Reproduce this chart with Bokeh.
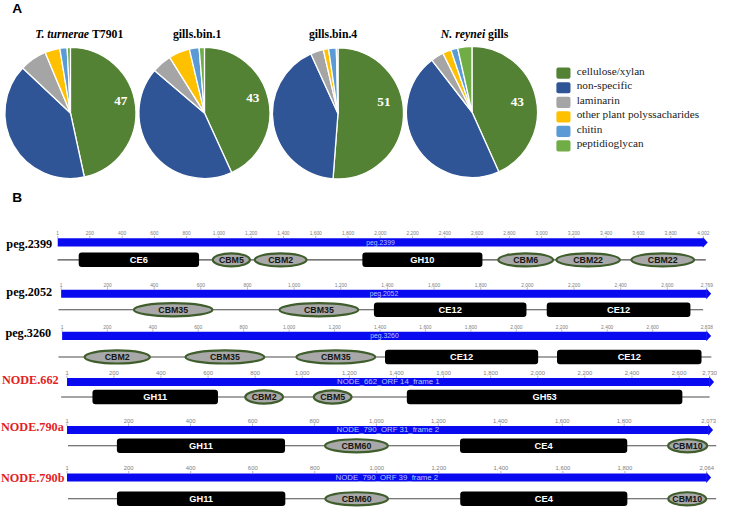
import math
from bokeh.plotting import figure
from bokeh.models import Range1d, ColumnDataSource
from bokeh.core.properties import value
from bokeh.embed import file_html
from bokeh.resources import INLINE

# ---------------- data ----------------
categories = ["cellulose/xylan", "non-specific", "laminarin",
              "other plant polyssacharides", "chitin", "peptidioglycan"]
cat_colors = ["#548235", "#2F5597", "#A5A5A5", "#FFC000", "#5B9BD5", "#70AD47"]

pie_title_italic = ["T. turnerae", "", "", "N. reynei"]
pie_title_plain = ["T7901", "gills.bin.1", "gills.bin.4", "gills"]
pct_turnerae = [46.6, 40.4, 6.7, 3.7, 1.8, 0.8]
pct_bin1 = [43.2, 43.0, 4.9, 5.2, 2.4, 1.3]
pct_bin4 = [51.2, 42.0, 3.2, 1.3, 1.9, 0.4]
pct_reynei = [43.3, 46.2, 3.2, 2.1, 1.7, 3.5]
pie_labels = ["47", "43", "51", "43"]

track_names = ["peg.2399", "peg.2052", "peg.3260", "NODE.662", "NODE.790a", "NODE.790b"]
track_bar_labels = ["peg.2399", "peg.2052", "peg.3260", "NODE_662_ORF 14_frame 1",
                    "NODE_790_ORF 31_frame 2", "NODE_790_ORF 39_frame 2"]
track_lengths = [4002, 2769, 2838, 2730, 2073, 2064]
tick_step = 200

dom_2399_names = ["CE6", "CBM5", "CBM2", "GH10", "CBM6", "CBM22", "CBM22"]
dom_2399_start = [131, 962, 1222, 1889, 2731, 3091, 3556]
dom_2399_end = [877, 1192, 1543, 2633, 3071, 3485, 3945]
dom_2052_names = ["CBM35", "CBM35", "CE12", "CE12"]
dom_2052_start = [313, 937, 1342, 2083]
dom_2052_end = [650, 1275, 1996, 2699]
dom_3260_names = ["CBM2", "CBM35", "CBM35", "CE12", "CE12"]
dom_3260_start = [100, 544, 1032, 1422, 2179]
dom_3260_end = [387, 891, 1379, 2096, 2815]
dom_662_names = ["GH11", "CBM2", "CBM5", "GH53"]
dom_662_start = [109, 758, 1049, 1444]
dom_662_end = [642, 918, 1209, 2614]
dom_790a_names = ["GH11", "CBM60", "CE4", "CBM10"]
dom_790a_start = [162, 834, 1270, 1942]
dom_790a_end = [705, 1037, 1810, 2068]
dom_790b_names = ["GH11", "CBM60", "CE4", "CBM10"]
dom_790b_start = [162, 834, 1269, 1940]
dom_790b_end = [705, 1036, 1808, 2062]

# ---------------- layout (reference pixel space) ----------------
REF_W, REF_H = 733, 524
W, H = 717, 508
K = W / REF_W


def Y(v):
    return REF_H - v


def fs(px):
    return f"{px * K:.2f}px"


SERIF = value("Liberation Serif")
SANS = value("Liberation Sans")

pie_cx = [71.5, 208.5, 345, 482]
pie_cy = [116, 116, 116.5, 115]
PIE_R = 67
pie_lab_dx = [51.5, 49.5, 47, 46.3]
pie_lab_dy = [12, 15, 11.5, 10]
title_y = 35
title_split = [90.5, None, None, 495.5]
title_center = [None, 201, 340, None]

leg_sq_x = 575.5
leg_sq_y = [75, 90, 105, 120, 135, 150]
leg_txt_x = 589

trk_p0 = [58.5, 62, 63, 68, 68, 68]
trk_p1 = [718.5, 722, 722, 725, 724, 722]
trk_bar_y = [249.5, 302.5, 346, 393.5, 443, 492]
trk_line_y = [267.5, 319, 367.7, 409, 459.3, 514]
trk_line_x0 = [58.3, 59.3, 59.3, 62, 69, 69]
trk_line_x1 = [721, 718.3, 726.7, 725, 731.7, 731.7]
trk_name_x = [6, 6, 5, 1.5, 0.5, 0.5]
trk_name_y = [251, 301, 343.3, 391.7, 440, 492.3]
trk_color = ["black", "black", "black", "#E31E24", "#E31E24", "#E31E24"]
trk_tick_fs = [5, 5, 5, 6, 6, 6]
trk_bar_fs = [7, 7, 7, 8, 8, 8]
BAR_H = 8.4

track_domains = [
    (dom_2399_names, dom_2399_start, dom_2399_end),
    (dom_2052_names, dom_2052_start, dom_2052_end),
    (dom_3260_names, dom_3260_start, dom_3260_end),
    (dom_662_names, dom_662_start, dom_662_end),
    (dom_790a_names, dom_790a_start, dom_790a_end),
    (dom_790b_names, dom_790b_start, dom_790b_end),
]

p = figure(width=W, height=H, x_range=Range1d(0, REF_W), y_range=Range1d(0, REF_H),
           output_backend="svg", toolbar_location=None, min_border=0,
           x_axis_location=None, y_axis_location=None)
p.grid.visible = False
p.outline_line_color = None
p.background_fill_color = "white"

# panel letters
p.text(x=[12, 12], y=[Y(8.5), Y(203.5)], text=["A", "B"], text_font=SANS,
       text_font_style="bold", text_font_size=fs(14), text_baseline="middle",
       text_align="left", text_color="black")

# ---------------- Panel A: pies ----------------
pie_values = [pct_turnerae, pct_bin1, pct_bin4, pct_reynei]
for i, vals in enumerate(pie_values):
    tot = sum(vals)
    cum = 0.0
    starts, ends = [], []
    for v in vals:
        starts.append(math.pi / 2 - 2 * math.pi * cum / tot)
        cum += v
        ends.append(math.pi / 2 - 2 * math.pi * cum / tot)
    src = ColumnDataSource(dict(x=[pie_cx[i]] * len(vals), y=[Y(pie_cy[i])] * len(vals),
                                start=starts, end=ends, color=cat_colors))
    p.wedge(x="x", y="y", radius=PIE_R, start_angle="start", end_angle="end",
            direction="clock", fill_color="color", line_color="white",
            line_width=1.3, source=src)
    p.text(x=[pie_cx[i] + pie_lab_dx[i]], y=[Y(pie_cy[i]) + pie_lab_dy[i]],
           text=[pie_labels[i]], text_font=SERIF, text_font_style="bold",
           text_font_size=fs(13.5), text_color="white", text_align="center",
           text_baseline="middle")
    if pie_title_italic[i]:
        sx = title_split[i]
        p.text(x=[sx], y=[Y(title_y)], text=[pie_title_italic[i]], text_font=SERIF,
               text_font_style="bold italic", text_font_size=fs(12),
               text_align="right", text_baseline="middle", text_color="black")
        p.text(x=[sx + 3], y=[Y(title_y)], text=[pie_title_plain[i]], text_font=SERIF,
               text_font_style="bold", text_font_size=fs(12),
               text_align="left", text_baseline="middle", text_color="black")
    else:
        p.text(x=[title_center[i]], y=[Y(title_y)], text=[pie_title_plain[i]],
               text_font=SERIF, text_font_style="bold", text_font_size=fs(12),
               text_align="center", text_baseline="middle", text_color="black")

# legend
leg_y = [Y(v) for v in leg_sq_y]
p.quad(left=[leg_sq_x - 7.2] * 6, right=[leg_sq_x + 7.2] * 6,
       bottom=[v - 5.8 for v in leg_y], top=[v + 5.8 for v in leg_y],
       fill_color=cat_colors, line_color=None, border_radius=2)
p.text(x=[leg_txt_x] * 6, y=[v + 2.5 for v in leg_y], text=categories,
       text_font=SERIF, text_font_size=fs(11.5), text_baseline="middle",
       text_align="left", text_color="#222222")

# ---------------- Panel B: domain tracks ----------------
for i in range(len(track_names)):
    L = track_lengths[i]
    s = (trk_p1[i] - trk_p0[i]) / (L - 1)
    a = 1 - trk_p0[i] / s
    rn = f"t{i}"
    p.extra_x_ranges[rn] = Range1d(a, a + REF_W / s)
    yb = Y(trk_bar_y[i])
    yl = Y(trk_line_y[i])

    def res(px):
        return 1 + (px - trk_p0[i]) / s

    # backbone line
    p.segment(x0=[res(trk_line_x0[i])], y0=[yl], x1=[res(trk_line_x1[i])], y1=[yl],
              x_range_name=rn, line_color="#4d4d4d", line_width=1.1)
    # blue arrow bar
    p.quad(left=[1], right=[L], bottom=[yb - BAR_H / 2], top=[yb + BAR_H / 2],
           x_range_name=rn, fill_color="#0a0af0", line_color=None)
    p.patches(xs=[[L - 0.5 / s, L - 0.5 / s, L + 4.5 / s]],
              ys=[[yb - 5.6, yb + 5.6, yb]], x_range_name=rn,
              fill_color="#0a0af0", line_color=None)
    p.text(x=[(1 + L) / 2], y=[yb], text=[track_bar_labels[i]], x_range_name=rn,
           text_font=SANS, text_font_size=fs(trk_bar_fs[i]), text_color="#b3c6ff",
           text_align="center", text_baseline="middle")
    # ticks
    ticks = [1] + [m for m in range(tick_step, L, tick_step) if L - m > 100] + [L]
    p.segment(x0=ticks, y0=[yb + BAR_H / 2] * len(ticks), x1=ticks,
              y1=[yb + BAR_H / 2 + 2.5] * len(ticks), x_range_name=rn,
              line_color="#9a9a9a", line_width=0.7)
    p.text(x=ticks, y=[yb + 9.5] * len(ticks), text=[f"{t:,}" for t in ticks],
           x_range_name=rn, text_font=SANS, text_font_size=fs(trk_tick_fs[i]),
           text_color="#808080", text_align="center", text_baseline="middle")

    # domains
    names, st, en = track_domains[i]
    cbm = [j for j, n in enumerate(names) if n.startswith("CBM")]
    cat = [j for j, n in enumerate(names) if not n.startswith("CBM")]
    if cat:
        p.quad(left=[st[j] for j in cat], right=[en[j] for j in cat],
               bottom=[yl - 7.5] * len(cat), top=[yl + 7.5] * len(cat),
               x_range_name=rn, fill_color="black", line_color=None, border_radius=3)
        p.text(x=[(st[j] + en[j]) / 2 for j in cat], y=[yl] * len(cat),
               text=[names[j] for j in cat], x_range_name=rn, text_font=SANS,
               text_font_style="bold", text_font_size=fs(9.5), text_color="white",
               text_align="center", text_baseline="middle")
    if cbm:
        p.ellipse(x=[(st[j] + en[j]) / 2 for j in cbm], y=[yl] * len(cbm),
                  width=[en[j] - st[j] for j in cbm], height=[13.5] * len(cbm),
                  x_range_name=rn, fill_color="#a8a8a8", line_color="#3f5e2c",
                  line_width=2.2)
        p.text(x=[(st[j] + en[j]) / 2 for j in cbm], y=[yl] * len(cbm),
               text=[names[j] for j in cbm], x_range_name=rn, text_font=SANS,
               text_font_style="bold", text_font_size=fs(9), text_color="#161616",
               text_align="center", text_baseline="middle")

    # track name
    p.text(x=[trk_name_x[i]], y=[Y(trk_name_y[i])], text=[track_names[i]],
           text_font=SERIF, text_font_style="bold", text_font_size=fs(12.5),
           text_color=trk_color[i], text_align="left", text_baseline="middle")

open("out.html", "w").write(file_html(p, INLINE))
